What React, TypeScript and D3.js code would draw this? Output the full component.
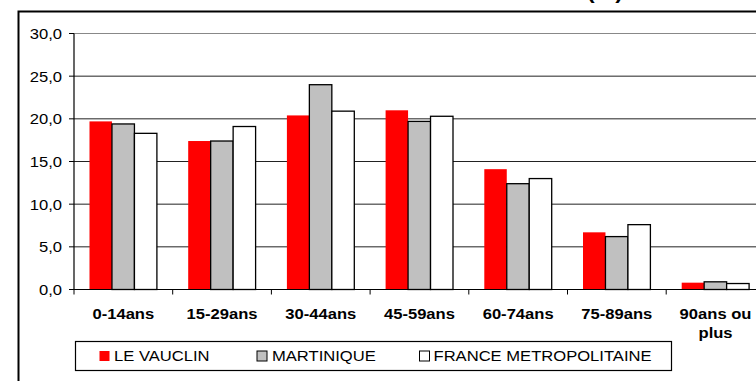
import React from "react";
import * as d3 from "d3";

const categories = ["0-14ans", "15-29ans", "30-44ans", "45-59ans", "60-74ans", "75-89ans", "90ans ou plus"];
const seriesNames = ["LE VAUCLIN", "MARTINIQUE", "FRANCE METROPOLITAINE"];
const vauclin = [19.7, 17.4, 20.4, 21.0, 14.1, 6.7, 0.8];
const martinique = [19.4, 17.4, 24.0, 19.7, 12.4, 6.2, 0.9];
const france = [18.3, 19.1, 20.9, 20.3, 13.0, 7.6, 0.7];
const yTicks = [0, 5, 10, 15, 20, 25, 30];
const titleText = "(%)";

const seriesValues = [vauclin, martinique, france];
const fills = ["#FF0000", "#C0C0C0", "#FFFFFF"];
const strokes = ["none", "#000", "#000"];

const W = 756;
const H = 381;
const FONT = "'Liberation Sans', Arial, Helvetica, sans-serif";
// text is drawn slightly wider than the stock font metrics
const SX = 1.07;

export default function App() {
  const plotLeft = 74;
  const bandW = 98.7;
  const x = d3
    .scaleBand<string>()
    .domain(categories)
    .range([plotLeft, plotLeft + bandW * categories.length])
    .paddingInner(0)
    .paddingOuter(0);
  const xs = d3
    .scaleBand<number>()
    .domain(d3.range(seriesNames.length))
    .range([15.5, bandW - 15.8]);
  const y = d3.scaleLinear().domain([0, 30]).range([289.5, 33.5]);
  const plotRight = plotLeft + bandW * categories.length;
  const fmt = (v: number) => v.toFixed(1).replace(".", ",");

  const legendItems = [
    { sx: 99.5, tx: 114 },
    { sx: 257, tx: 272 },
    { sx: 419.5, tx: 433.5 },
  ];

  return (
    <svg
      width={W}
      height={H}
      style={{ position: "absolute", left: 0, top: 0, background: "#fff" }}
      fontFamily={FONT}
    >
      <rect x={0} y={0} width={W} height={H} fill="#fff" />
      {/* title, sitting above the frame */}
      <text fontSize={21} fontWeight="bold" fill="#000" transform={`translate(587,-1) scale(1.1,1)`}>
        {titleText}
      </text>
      {/* chart frame */}
      <rect x={18.5} y={11.5} width={800} height={400} fill="none" stroke="#000" strokeWidth={2} />

      {/* gridlines */}
      {yTicks.filter((t) => t > 0).map((t) => (
        <line
          key={"g" + t}
          x1={plotLeft}
          x2={plotRight}
          y1={y(t)}
          y2={y(t)}
          stroke={t === 30 ? "#888" : "#222"}
          strokeWidth={1}
        />
      ))}

      {/* bars */}
      {categories.map((c, ci) => (
        <g key={c} transform={`translate(${x(c)},0)`}>
          {seriesValues.map((vals, si) => {
            const v = vals[ci];
            return (
              <rect
                key={si}
                x={xs(si)!}
                y={y(v)}
                width={xs.bandwidth()}
                height={y(0) - y(v)}
                fill={fills[si]}
                stroke={strokes[si]}
                strokeWidth={1.3}
              />
            );
          })}
        </g>
      ))}

      {/* y axis */}
      <line x1={plotLeft} x2={plotLeft} y1={y(30)} y2={y(0)} stroke="#000" strokeWidth={1.2} />
      {yTicks.map((t) => (
        <g key={"y" + t}>
          <line x1={plotLeft - 5} x2={plotLeft} y1={y(t)} y2={y(t)} stroke="#000" strokeWidth={1} />
          <text
            transform={`translate(62,${y(t) + 5.5}) scale(${SX},1)`}
            textAnchor="end"
            fontSize={15.5}
            fill="#000"
          >
            {fmt(t)}
          </text>
        </g>
      ))}

      {/* x axis */}
      <line x1={plotLeft} x2={plotRight} y1={y(0)} y2={y(0)} stroke="#000" strokeWidth={1.2} />
      {categories.map((c) => (
        <line
          key={"xt" + c}
          x1={x(c)!}
          x2={x(c)!}
          y1={y(0)}
          y2={y(0) + 5}
          stroke="#000"
          strokeWidth={1}
        />
      ))}
      {categories.map((c) => {
        const cx = x(c)! + x.bandwidth() / 2;
        const lines = c === "90ans ou plus" ? ["90ans ou", "plus"] : [c];
        return (
          <text
            key={"xl" + c}
            transform={`translate(${cx},319) scale(${SX},1)`}
            textAnchor="middle"
            fontSize={15.5}
            fontWeight="bold"
            fill="#000"
          >
            {lines.map((l, i) => (
              <tspan key={i} x={0} dy={i === 0 ? 0 : 19.5}>
                {l}
              </tspan>
            ))}
          </text>
        );
      })}

      {/* legend */}
      <rect x={75.5} y={341.5} width={596} height={29} fill="#fff" stroke="#000" strokeWidth={1.2} />
      {seriesNames.map((name, i) => (
        <g key={name}>
          <rect
            x={legendItems[i].sx}
            y={351}
            width={10}
            height={10}
            fill={fills[i]}
            stroke={strokes[i]}
            strokeWidth={1}
          />
          <text
            transform={`translate(${legendItems[i].tx},361) scale(${SX},1)`}
            fontSize={15.5}
            fill="#000"
          >
            {name}
          </text>
        </g>
      ))}
    </svg>
  );
}
